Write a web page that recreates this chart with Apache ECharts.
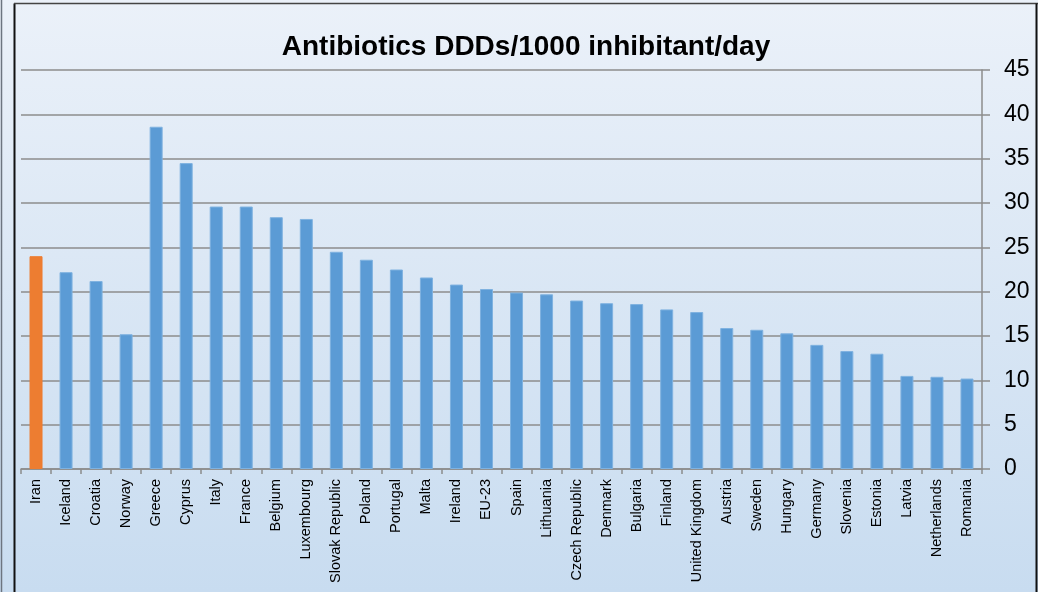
<!DOCTYPE html>
<html>
<head>
<meta charset="utf-8">
<script src="https://cdn.jsdelivr.net/npm/echarts@6/dist/echarts.min.js"></script>
<style>
html,body{margin:0;padding:0;background:#dce8f5;}
#chart{width:1038px;height:592px;}
</style>
</head>
<body>
<div id="chart"></div>
<script>
const titleText = 'Antibiotics DDDs/1000 inhibitant/day';
const categories = ['Iran','Iceland','Croatia','Norway','Greece','Cyprus','Italy','France','Belgium','Luxembourg','Slovak Republic','Poland','Portugal','Malta','Ireland','EU-23','Spain','Lithuania','Czech Republic','Denmark','Bulgaria','Finland','United Kingdom','Austria','Sweden','Hungary','Germany','Slovenia','Estonia','Latvia','Netherlands','Romania'];
const values = [24.0,22.2,21.2,15.2,38.6,34.5,29.6,29.6,28.4,28.2,24.5,23.6,22.5,21.6,20.8,20.3,19.9,19.7,19.0,18.7,18.6,18.0,17.7,15.9,15.7,15.3,14.0,13.3,13.0,10.5,10.4,10.2];
const highlighted = ['Iran'];
const yTicks = {min:0, max:45, interval:5};

const blue = '#5B9BD5', orange = '#ED7D31';
const chart = echarts.init(document.getElementById('chart'), null, {renderer:'canvas'});
chart.setOption({
  animation:false,
  backgroundColor:{type:'linear',x:0,y:0,x2:0,y2:1,colorStops:[{offset:0,color:'#EBF1F9'},{offset:1,color:'#C8DCF0'}]},
  graphic:[
    {type:'line',shape:{x1:1.5,y1:0,x2:1.5,y2:592},style:{stroke:'#6d7580',lineWidth:1.5},z:100},
    {type:'line',shape:{x1:14.5,y1:3.5,x2:14.5,y2:592},style:{stroke:'#111',lineWidth:2},z:100},
    {type:'line',shape:{x1:14,y1:3.5,x2:1038,y2:3.5},style:{stroke:'#444',lineWidth:1.5},z:100},
    {type:'line',shape:{x1:1036.5,y1:3.5,x2:1036.5,y2:592},style:{stroke:'#111',lineWidth:2},z:100},
    {type:'text',x:526,y:47,style:{text:titleText,font:'bold 28px "Liberation Sans", Arial, sans-serif',fill:'#000',textAlign:'center',textVerticalAlign:'middle'},z:100}
  ],
  grid:{left:21,right:56,top:70,bottom:123,containLabel:false},
  xAxis:{
    type:'category',data:categories,
    axisLine:{show:true,lineStyle:{color:'#8c8c8c',width:1.5}},
    axisTick:{show:true,length:5,lineStyle:{color:'#8c8c8c',width:1.5}},
    axisLabel:{rotate:90,interval:0,fontSize:14.5,color:'#000',margin:10,fontFamily:'"Liberation Sans", Arial, sans-serif'}
  },
  yAxis:{
    type:'value',position:'right',min:yTicks.min,max:yTicks.max,interval:yTicks.interval,
    axisLine:{show:true,lineStyle:{color:'#8c8c8c',width:1.5}},
    axisTick:{show:true,length:8,lineStyle:{color:'#8c8c8c',width:1.5}},
    axisLabel:{fontSize:23,color:'#000',margin:22,fontFamily:'"Liberation Sans", Arial, sans-serif'},
    splitLine:{show:true,lineStyle:{color:'#8c8c8c',width:1.5}}
  },
  series:[{
    type:'bar',barWidth:13,
    data:values.map((v,i)=>({value:v,itemStyle:{color:highlighted.includes(categories[i])?orange:blue,borderColor:highlighted.includes(categories[i])?orange:'#7FB2E0',borderWidth:1}}))
  }]
});
</script>
</body>
</html>
